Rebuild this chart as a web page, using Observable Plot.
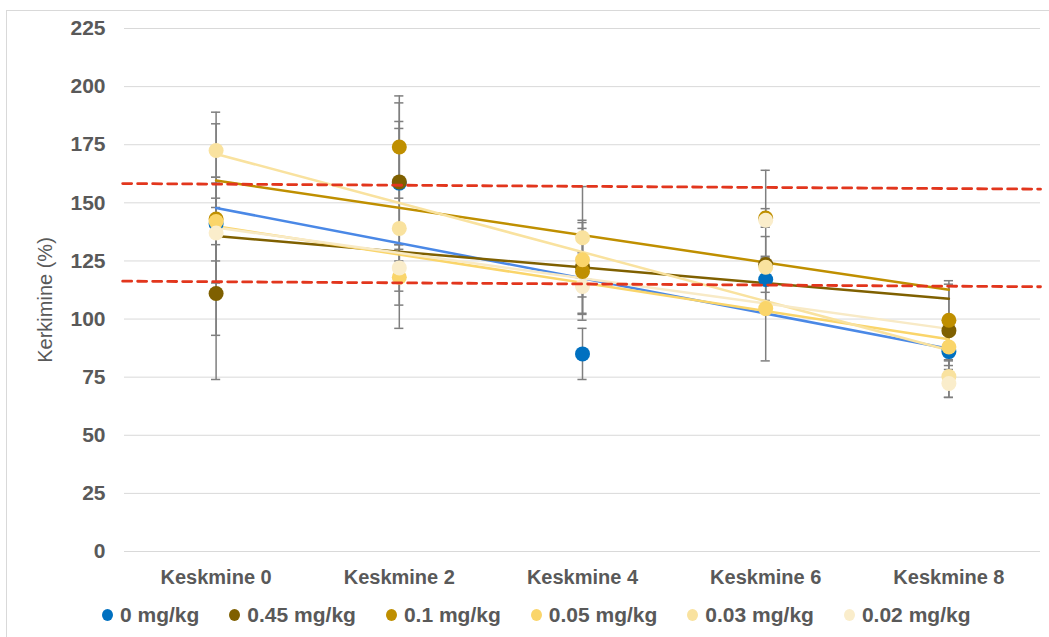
<!DOCTYPE html>
<html>
<head>
<meta charset="utf-8">
<script src="https://cdn.jsdelivr.net/npm/d3@7"></script>
<script src="https://cdn.jsdelivr.net/npm/@observablehq/plot@0.6"></script>
<style>
  html, body { margin: 0; padding: 0; background: #fff; }
  body { width: 1049px; height: 637px; position: relative; overflow: hidden; }
  #frame { position: absolute; left: 6px; top: 10px; width: 1100px; height: 700px; border: 1px solid #d9d9d9; box-sizing: border-box; }
  #chart { position: absolute; left: 0; top: 0; }
  #ytitle { position: absolute; left: 45px; top: 300px; transform: translate(-50%, -50%) rotate(-90deg);
            font-family: "Liberation Sans", Arial, sans-serif; font-size: 20px; color: #595959; white-space: nowrap; }
  #legend { position: absolute; left: 102px; top: 603px; display: flex; align-items: center; gap: 30px;
            font-family: "Liberation Sans", Arial, sans-serif; font-weight: bold; font-size: 21px; color: #595959; }
  #legend .item { display: flex; align-items: center; white-space: nowrap; }
  #legend .sw { width: 11px; height: 12px; border-radius: 50%; margin-right: 7px; }
</style>
</head>
<body>
<div id="frame"></div>
<div id="chart"></div>
<div id="ytitle">Kerkimine (%)</div>
<div id="legend"></div>
<script>
// Measurement times (weeks) and their axis labels
const times = [0, 2, 4, 6, 8];
const timeLabel = t => `Keskmine ${t}`;
const yTicks = [0, 25, 50, 75, 100, 125, 150, 175, 200, 225];

// Dose groups
const doses = ["0 mg/kg", "0.45 mg/kg", "0.1 mg/kg", "0.05 mg/kg", "0.03 mg/kg", "0.02 mg/kg"];
const dotColors = ["#0070c0", "#7f6000", "#bf8f00", "#fad56a", "#f9e29f", "#faedcb"];
const trendColors = ["#4a88e6", "#7f6000", "#bf8f00", "#fad56a", "#f9e29f", "#f8eac6"];

// Mean values (%) per dose group at each time
const mean0   = [141, 158.5, 85, 117, 86];
const mean045 = [111, 159, 122.5, 123.5, 95];
const mean01  = [143, 174, 120.5, 143.5, 99.5];
const mean005 = [142, 118, 125.5, 104.5, 88];
const mean003 = [172.5, 139, 135, 122.3, 75.3];
const mean002 = [137, 122, 114, 142.5, 72.3];

// Error bar half-widths (%)
const err0   = [48, 26.5, 11, 9, 4];
const err045 = [37, 34, 20, 12, 20];
const err01  = [18, 22, 18.5, 4, 17];
const err005 = [10, 12, 16, 22.5, 8];
const err003 = [11.5, 43, 22, 4, 9];
const err002 = [21.5, 10, 14.5, 21.5, 6];

// Dashed reference band limits, given at the left and right ends of the time axis
const limitT = [-1.02, 9];
const upperLimit = [158.3, 155.9];
const lowerLimit = [116.3, 113.9];

const means = [mean0, mean045, mean01, mean005, mean003, mean002];
const errs = [err0, err045, err01, err005, err003, err002];

const rows = [];
doses.forEach((dose, i) => times.forEach((t, j) => rows.push({dose, i, t, v: means[i][j], e: errs[i][j]})));
const upperRows = limitT.map((t, k) => ({t, v: upperLimit[k]}));
const lowerRows = limitT.map((t, k) => ({t, v: lowerLimit[k]}));

const capHalf = 0.05; // half cap width in time units
const greyBar = {stroke: "#7f7f7f", strokeWidth: 1.5};

const marks = [
  Plot.gridY(yTicks, {stroke: "#d9d9d9", strokeOpacity: 1, strokeWidth: 1}),
  Plot.axisY({ticks: yTicks, tickSize: 0, tickPadding: 19, label: null,
    fontSize: 21, fontWeight: "bold", fontFamily: "Liberation Sans, Arial, sans-serif", fill: "#595959"}),
  Plot.axisX({ticks: times, tickFormat: timeLabel, tickSize: 0, tickPadding: 18, label: null,
    fontSize: 20, fontWeight: "bold", fontFamily: "Liberation Sans, Arial, sans-serif", fill: "#595959"}),
  // error bars with caps
  Plot.ruleX(rows, {x: "t", y1: d => d.v - d.e, y2: d => d.v + d.e, ...greyBar}),
  Plot.ruleY(rows, {y: d => d.v + d.e, x1: d => d.t - capHalf, x2: d => d.t + capHalf, ...greyBar}),
  Plot.ruleY(rows, {y: d => d.v - d.e, x1: d => d.t - capHalf, x2: d => d.t + capHalf, ...greyBar})
];

// linear trend per dose group
doses.forEach((dose, i) => {
  marks.push(Plot.linearRegressionY(rows.filter(d => d.i === i), {x: "t", y: "v", stroke: trendColors[i], strokeWidth: 2.5, ci: 0}));
});
// group means
doses.forEach((dose, i) => {
  marks.push(Plot.dot(rows.filter(d => d.i === i), {x: "t", y: "v", r: 7.5, fill: dotColors[i], stroke: "none"}));
});
// dashed reference band
marks.push(Plot.line(upperRows, {x: "t", y: "v", stroke: "#e2361d", strokeWidth: 2.8, strokeDasharray: "9,6"}));
marks.push(Plot.line(lowerRows, {x: "t", y: "v", stroke: "#e2361d", strokeWidth: 2.8, strokeDasharray: "9,6"}));

const chart = Plot.plot({
  width: 1049,
  height: 600,
  marginTop: 28,
  marginBottom: 49,
  marginLeft: 124,
  marginRight: 9,
  x: {domain: [-1, 9]},
  y: {domain: [0, 225]},
  style: {background: "transparent", overflow: "visible"},
  marks
});
document.getElementById("chart").appendChild(chart);

// legend
const legend = document.getElementById("legend");
doses.forEach((dose, i) => {
  const item = document.createElement("div");
  item.className = "item";
  const sw = document.createElement("span");
  sw.className = "sw";
  sw.style.background = dotColors[i];
  item.appendChild(sw);
  item.appendChild(document.createTextNode(dose));
  legend.appendChild(item);
});
</script>
</body>
</html>
